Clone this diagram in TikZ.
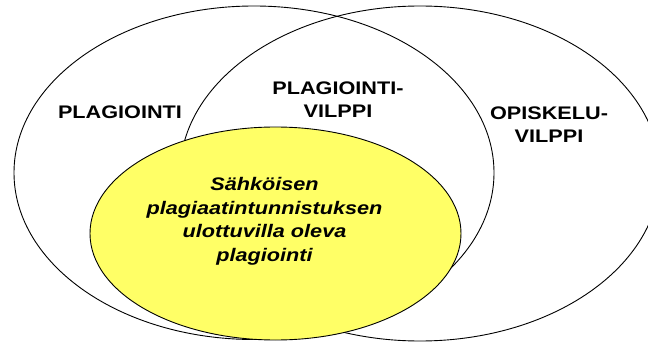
\documentclass[tikz,border=0pt]{standalone}
\usepackage{fontspec}
\setmainfont{Liberation Sans}[FakeStretch=1.19]
\definecolor{venyellow}{RGB}{255,255,102}
\begin{document}
\begin{tikzpicture}[x=1pt,y=-1pt,
  ring/.style={draw=black,line width=0.9pt},
  lab/.style={font=\fontsize{18.2}{23}\selectfont\bfseries, align=center, inner sep=0pt},
  ylab/.style={font=\fontsize{18.2}{23.5}\selectfont\bfseries\itshape, align=center, inner sep=0pt}]
\useasboundingbox (0,0) rectangle (648,342);
\clip (0,0) rectangle (648,342);
\fill[white] (0,0) rectangle (648,342);
% left set: PLAGIOINTI
\draw[ring] (254,172.75) ellipse [x radius=240, y radius=166.75];
% right set: OPISKELUVILPPI
\draw[ring] (420,173.5) ellipse [x radius=240, y radius=167.5];
% inner yellow set
\draw[ring, fill=venyellow] (275.5,233.5) ellipse [x radius=185.5, y radius=106.5];
\node[lab] (plag) at (120,112.5) {PLAGIOINTI};
\node[lab] (pvil) at (338,100) {PLAGIOINTI-\\VILPPI};
\node[lab] (opis) at (549,124.5) {OPISKELU-\\VILPPI};
\node[ylab] (sahk) at (264.5,221.5) {Sähköisen\\plagiaatintunnistuksen\\ulottuvilla oleva\\plagiointi};
\end{tikzpicture}
\end{document}
